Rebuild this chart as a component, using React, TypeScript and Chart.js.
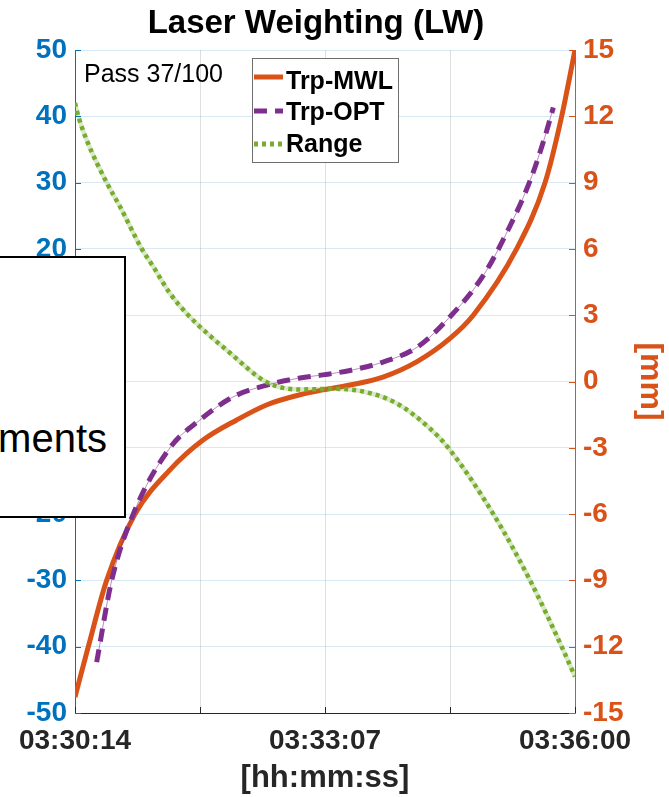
import { useEffect, useRef } from "react";
import { Chart, registerables } from "chart.js";

Chart.register(...registerables);

// ---------- text ----------
const chartTitle = "Laser Weighting (LW)";
const xAxisTitle = "[hh:mm:ss]";
const rightAxisTitle = "[mm]";
const passText = "Pass 37/100";
const overlayText = "ments";

// ---------- ticks ----------
// x in seconds since 03:30:14
const xTickValues = [0, 86.5, 173, 259.5, 346];
const xTickLabels = ["03:30:14", "", "03:33:07", "", "03:36:00"];
const leftMin = -50;
const leftMax = 50;
const leftStep = 10;
const rightMin = -15;
const rightMax = 15;
const rightStep = 3;

// ---------- series ----------
const seriesNames = ["Trp-MWL", "Trp-OPT", "Range"];

// Trp-MWL [mm] (right axis)
const mwlTime = [0, 9.2, 21.9, 41.5, 65.7, 88.6, 111.9, 132.9, 155.7, 171.6, 190.3, 213.1, 236.7, 259.5, 275.6, 305.6, 325.3, 336.8, 346];
const mwlValues = [-14.28, -12, -9, -6, -4.0, -2.65, -1.74, -1.05, -0.6, -0.38, -0.16, 0.2, 0.9, 1.95, 3.0, 6.0, 9.0, 12.0, 15.0];

// Trp-OPT [mm] (right axis)
const optTime = [15.0, 25.4, 40.3, 65.7, 86.5, 109.3, 132.9, 155.7, 171.6, 190.3, 213.1, 236.7, 259.5, 282.6, 300, 315, 325.3, 331];
const optValues = [-12.7, -9, -6, -3, -1.74, -0.7, -0.16, 0.16, 0.3, 0.5, 0.88, 1.55, 2.93, 4.8, 6.9, 9.1, 11.1, 12.4];

// Range (left axis)
const rangeTime = [0, 2.3, 8.1, 21.9, 31.1, 46.2, 54.2, 65.7, 78.4, 107.3, 132.7, 155.7, 178, 199.3, 222.6, 245.7, 258.3, 289.5, 314.9, 336.8, 346];
const rangeValues = [42, 40, 36.4, 30, 26.4, 20, 17.3, 13.3, 10, 4.3, -0.1, -1.2, -1.1, -1.5, -3.3, -7.1, -10, -20, -30, -40, -44.5];

// ---------- styles ----------
const FONT = "'Liberation Sans', Arial, Helvetica, sans-serif";
const leftColor = "#0072BD";
const rightColor = "#D95319";
const mwlColor = "#D95319";
const optColor = "#7E2F8E";
const rangeColor = "#77AC30";
const textDark = "#262626";
const optDash = [13, 8];
const rangeDash = [4, 4];

const toPoints = (xs: number[], ys: number[]) => xs.map((x, i) => ({ x, y: ys[i] }));

export default function App() {
  const ref = useRef<HTMLCanvasElement | null>(null);

  useEffect(() => {
    const canvas = ref.current;
    if (!canvas) return;

    const decorPlugin = {
      id: "decor",
      afterDraw(chart: any) {
        const { ctx, chartArea: ca, scales } = chart;
        ctx.save();
        // title
        ctx.fillStyle = "#000";
        ctx.font = `bold 33px ${FONT}`;
        ctx.textAlign = "center";
        ctx.textBaseline = "alphabetic";
        ctx.fillText(chartTitle, 316, 33);

        // inward tick marks
        const tl = 6;
        ctx.lineWidth = 1;
        ctx.strokeStyle = leftColor;
        scales.y.ticks.forEach((t: any) => {
          const py = Math.round(scales.y.getPixelForValue(t.value)) + 0.5;
          ctx.beginPath();
          ctx.moveTo(ca.left, py);
          ctx.lineTo(ca.left + tl, py);
          ctx.stroke();
        });
        ctx.strokeStyle = rightColor;
        scales.y1.ticks.forEach((t: any) => {
          const py = Math.round(scales.y1.getPixelForValue(t.value)) + 0.5;
          ctx.beginPath();
          ctx.moveTo(ca.right, py);
          ctx.lineTo(ca.right - tl, py);
          ctx.stroke();
        });
        ctx.strokeStyle = textDark;
        scales.x.ticks.forEach((t: any) => {
          const px = Math.round(scales.x.getPixelForValue(t.value)) + 0.5;
          ctx.beginPath();
          ctx.moveTo(px, ca.bottom);
          ctx.lineTo(px, ca.bottom - tl);
          ctx.stroke();
        });

        // pass text
        ctx.fillStyle = "#000";
        ctx.font = `25px ${FONT}`;
        ctx.textAlign = "left";
        ctx.fillText(passText, ca.left + 9, ca.top + 32);

        // legend
        const bx = 252.5, by = 58.5, bw = 146, bh = 104;
        ctx.fillStyle = "#fff";
        ctx.fillRect(bx, by, bw, bh);
        ctx.strokeStyle = "#6e6e6e";
        ctx.lineWidth = 1;
        ctx.strokeRect(bx, by, bw, bh);
        const entries = [
          { name: seriesNames[0], color: mwlColor, dash: [] as number[], ly: 77, ty: 89 },
          { name: seriesNames[1], color: optColor, dash: optDash, ly: 111, ty: 120 },
          { name: seriesNames[2], color: rangeColor, dash: rangeDash, ly: 144, ty: 152 },
        ];
        entries.forEach((e) => {
          ctx.save();
          ctx.strokeStyle = e.color;
          ctx.lineWidth = 5;
          ctx.setLineDash(e.dash);
          ctx.beginPath();
          ctx.moveTo(254, e.ly);
          ctx.lineTo(283, e.ly);
          ctx.stroke();
          ctx.restore();
          ctx.fillStyle = "#000";
          ctx.font = `bold 25px ${FONT}`;
          ctx.fillText(e.name, 286, e.ty);
        });
        ctx.restore();
      },
    };

    const chart = new Chart(canvas, {
      type: "line",
      data: {
        datasets: [
          {
            label: seriesNames[2],
            data: toPoints(rangeTime, rangeValues),
            yAxisID: "y",
            borderColor: rangeColor,
            borderWidth: 4.5,
            borderDash: rangeDash,
            pointRadius: 0,
            cubicInterpolationMode: "monotone",
            order: 0,
          },
          {
            label: seriesNames[2] + " halo",
            data: toPoints(rangeTime, rangeValues),
            yAxisID: "y",
            borderColor: "rgba(119,172,48,0.28)",
            borderWidth: 4.5,
            pointRadius: 0,
            cubicInterpolationMode: "monotone",
            order: 1,
          },
          {
            label: seriesNames[1],
            data: toPoints(optTime, optValues),
            yAxisID: "y1",
            borderColor: optColor,
            borderWidth: 5,
            borderDash: optDash,
            pointRadius: 0,
            cubicInterpolationMode: "monotone",
            order: 2,
          },
          {
            label: seriesNames[1] + " thin",
            data: toPoints(optTime, optValues),
            yAxisID: "y1",
            borderColor: "rgba(126,47,142,0.55)",
            borderWidth: 1,
            pointRadius: 0,
            cubicInterpolationMode: "monotone",
            order: 3,
          },
          {
            label: seriesNames[0],
            data: toPoints(mwlTime, mwlValues),
            yAxisID: "y1",
            borderColor: mwlColor,
            borderWidth: 5,
            pointRadius: 0,
            cubicInterpolationMode: "monotone",
            order: 4,
          },
        ],
      },
      options: {
        responsive: false,
        animation: false,
        devicePixelRatio: 1,
        layout: { padding: { top: 50, left: 0, right: 0, bottom: 0 } },
        plugins: {
          legend: { display: false },
          tooltip: { enabled: false },
          title: { display: false },
        },
        scales: {
          x: {
            type: "linear",
            position: "bottom",
            min: xTickValues[0],
            max: xTickValues[xTickValues.length - 1],
            afterFit: (s: any) => {
              s.height = 84;
            },
            afterBuildTicks: (s: any) => {
              s.ticks = xTickValues.map((v) => ({ value: v }));
            },
            ticks: {
              autoSkip: false,
              maxRotation: 0,
              padding: 11,
              color: textDark,
              font: { family: FONT, size: 28, weight: "bold" },
              callback: (v: any) => {
                const i = xTickValues.indexOf(Number(v));
                return i >= 0 ? xTickLabels[i] : "";
              },
            },
            grid: { color: "rgba(38,38,38,0.15)", drawTicks: false, lineWidth: 1 },
            border: { display: true, color: textDark, width: 1 },
            title: {
              display: true,
              text: xAxisTitle,
              color: textDark,
              font: { family: FONT, size: 31, weight: "bold", lineHeight: 1.2 },
              padding: { top: 0, bottom: 0 },
            },
          },
          y: {
            type: "linear",
            position: "left",
            min: leftMin,
            max: leftMax,
            afterFit: (s: any) => {
              s.width = 75;
            },
            ticks: {
              stepSize: leftStep,
              padding: 8,
              color: leftColor,
              font: { family: FONT, size: 28, weight: "bold" },
            },
            grid: { color: "rgba(0,114,189,0.15)", drawTicks: false, lineWidth: 1 },
            border: { display: true, color: leftColor, width: 1 },
          },
          y1: {
            type: "linear",
            position: "right",
            min: rightMin,
            max: rightMax,
            afterFit: (s: any) => {
              s.width = 94;
            },
            ticks: {
              stepSize: rightStep,
              padding: 8,
              color: rightColor,
              font: { family: FONT, size: 28, weight: "bold" },
            },
            grid: { display: false, drawTicks: false },
            border: { display: true, color: rightColor, width: 1 },
            title: {
              display: true,
              text: rightAxisTitle,
              color: rightColor,
              font: { family: FONT, size: 32, weight: "bold", lineHeight: 1.0 },
              padding: { top: 3, bottom: 0 },
            },
          },
        },
      },
      plugins: [decorPlugin],
    } as any);

    return () => chart.destroy();
  }, []);

  return (
    <div style={{ position: "absolute", left: 0, top: 0, width: 669, height: 797, background: "#fff", overflow: "hidden" }}>
      <canvas ref={ref} width={669} height={797} style={{ display: "block", width: 669, height: 797 }} />
      <div
        style={{
          position: "absolute",
          left: -12,
          top: 256,
          width: 138,
          height: 262,
          boxSizing: "border-box",
          border: "2px solid #000",
          background: "#fff",
        }}
      >
        <span
          style={{
            position: "absolute",
            right: 17,
            top: 160,
            fontFamily: FONT,
            fontSize: 40,
            lineHeight: "40px",
            color: "#000",
            whiteSpace: "nowrap",
          }}
        >
          {overlayText}
        </span>
      </div>
    </div>
  );
}
